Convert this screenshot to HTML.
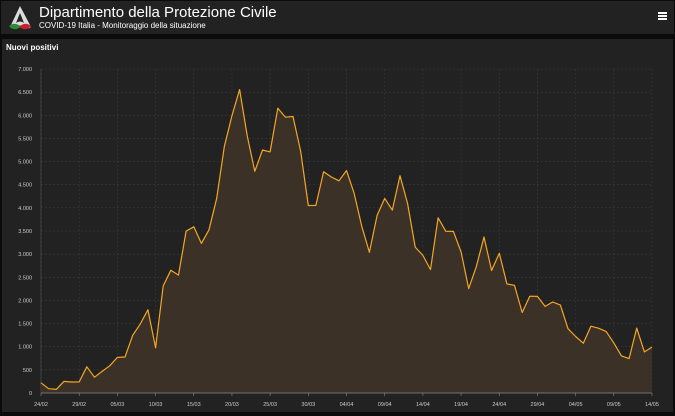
<!DOCTYPE html>
<html><head><meta charset="utf-8"><style>
body{margin:0;width:675px;height:416px;background:#0a0a0a;overflow:hidden;font-family:"Liberation Sans",sans-serif}
#hdr{position:absolute;left:1px;top:1px;width:673px;height:33px;background:#222}
#ttl{position:absolute;left:38px;top:3px;color:#fff;font-size:15px}
#sub{position:absolute;left:38px;top:20px;color:#fff;font-size:8px}
#pn{position:absolute;left:2px;top:39px;width:671px;height:373px;background:#222}
#pt{position:absolute;left:6px;top:43px;color:#fff;font-size:8px;font-weight:bold}
</style></head><body>
<div id="hdr">
<svg width="30" height="30" style="position:absolute;left:4px;top:2px" viewBox="0 0 30 30">
<path d="M15 3 L6 22 Q4 26 9 25 Q15 20 22 25 Q27 26 25 22 Z" fill="#ddd"/>
<path d="M4 23 Q10 18 16 24 L12 26 Q7 27 4 23Z" fill="#2a8a3a"/>
<path d="M14 24 Q20 18 26 23 Q23 27 18 26Z" fill="#c8202a"/>
<path d="M15 10 L11 20 Q15 17 19 20Z" fill="#222"/>
</svg>
<div id="ttl">Dipartimento della Protezione Civile</div>
<div id="sub">COVID-19 Italia - Monitoraggio della situazione</div>
<div style="position:absolute;left:657px;top:11px;width:9px;height:2px;background:#fff;box-shadow:0 3px 0 #fff,0 6px 0 #fff"></div>
</div>
<div id="pn"></div>
<div id="pt">Nuovi positivi</div>
<svg id="c" width="675" height="416" style="position:absolute;left:0;top:0"></svg>
<script>
var d=[221,93,78,250,238,240,566,342,466,587,769,778,1247,1492,1797,977,2313,2651,2547,3497,3590,3233,3526,4207,5322,5986,6557,5560,4789,5249,5210,6153,5959,5974,5217,4050,4053,4782,4668,4585,4805,4316,3599,3039,3836,4204,3951,4694,4092,3153,2972,2667,3786,3493,3491,3047,2256,2729,3370,2646,3021,2357,2324,1739,2091,2086,1872,1965,1900,1389,1221,1075,1444,1401,1327,1083,802,744,1402,888,992];
var x0=41,x1=652,y0=393,y7=69;
function X(i){return x0+(x1-x0)*i/80}function Y(v){return y0-(y0-y7)*v/7000}
var s='';
for(var v=0;v<=7000;v+=500){var y=Y(v);s+='<line x1="'+x0+'" x2="'+x1+'" y1="'+y+'" y2="'+y+'" stroke="#3a3a3a" stroke-width="0.6" stroke-dasharray="2,2"/>';
s+='<text x="32" y="'+(y+2)+'" fill="#ccc" font-size="5.5" text-anchor="end">'+(v>=1000?Math.floor(v/1000)+'.'+String(v%1000).padStart(3,'0'):v)+'</text>';}
var lb=['24/02','29/02','05/03','10/03','15/03','20/03','25/03','30/03','04/04','09/04','14/04','19/04','24/04','29/04','04/05','09/05','14/05'];
for(var k=0;k<17;k++){var x=X(k*5);s+='<line x1="'+x+'" x2="'+x+'" y1="'+y7+'" y2="'+y0+'" stroke="#3a3a3a" stroke-width="0.6" stroke-dasharray="2,2"/>';
s+='<line x1="'+x+'" x2="'+x+'" y1="'+y0+'" y2="'+(y0+3)+'" stroke="#888" stroke-width="0.6"/>';
s+='<text x="'+x+'" y="406" fill="#ccc" font-size="5.5" text-anchor="middle">'+lb[k]+'</text>';}
s+='<line x1="'+x0+'" x2="'+x0+'" y1="'+y7+'" y2="'+y0+'" stroke="#555" stroke-width="0.6"/>';
var p='';for(var i=0;i<d.length;i++)p+=(i?'L':'M')+X(i).toFixed(1)+' '+Y(d[i]).toFixed(1);
s+='<path d="'+p+'L'+x1+' '+y0+'L'+x0+' '+y0+'Z" fill="#3b3126"/>';
s+='<line x1="'+x0+'" x2="'+x1+'" y1="'+y0+'" y2="'+y0+'" stroke="#888" stroke-width="0.7"/>';
s+='<path d="'+p+'" fill="none" stroke="#f5a623" stroke-width="1.2" stroke-linejoin="round"/>';
document.getElementById('c').innerHTML=s;
</script>
</body></html>
